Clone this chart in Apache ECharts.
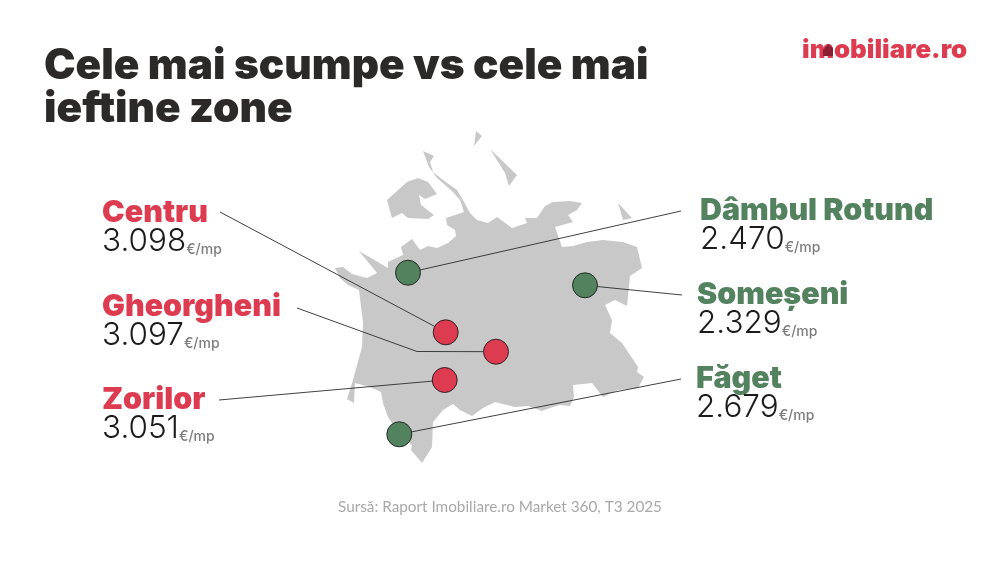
<!DOCTYPE html>
<html>
<head>
<meta charset="utf-8">
<title>Cele mai scumpe vs cele mai ieftine zone</title>
<style>
  html, body { margin: 0; padding: 0; background: #fff; }
  #chart { width: 1000px; height: 564px; }
</style>
<script src="https://cdn.jsdelivr.net/npm/echarts@6/dist/echarts.min.js"></script>
</head>
<body>
<div id="chart"></div>
<script>
// zones, prices (euro/mp)
var zones = ['Centru', 'Gheorgheni', 'Zorilor', 'Dâmbul Rotund', 'Someșeni', 'Făget'];
var prices = ['3.098', '3.097', '3.051', '2.470', '2.329', '2.679'];
var groups = ['scump', 'scump', 'scump', 'ieftin', 'ieftin', 'ieftin'];
// where each zone sits on the map
var zoneX = [445.7, 496, 444.7, 408, 585, 399.3];
var zoneY = [332.3, 351.7, 380, 272.7, 285.3, 434.3];
// where each text block starts
var labelX = [102, 102, 102, 700, 697, 696];
var labelY = [227.5, 321.5, 414.5, 225.5, 309.5, 393.5];
// start of each leader line, the Gheorgheni one has an elbow
var leaderStart = [[220, 212], [297, 308], [219, 400], [681, 211], [682, 295], [681, 379]];
var leaderElbow = [null, [417, 351.5], null, null, null, null];

// outline of the city
var cityMain = [[335,268],[343,267],[352,274],[367,278],[377,273],[359,251],[388,268],[388,262],[403,255],[401,247],[412,239],[420,250],[428,246],[437,248],[448,243],[456,236],[455,230],[447,225],[446,218],[464,212],[460,200],[452,191],[437,178],[429,167],[423,151],[434,156],[430,162],[433,172],[443,180],[457,190],[464,202],[470,213],[477,220],[488,223],[497,217],[512,228],[527,223],[525,218],[537,218],[545,206],[553,202],[570,201],[582,203],[577,210],[568,215],[573,222],[555,227],[562,247],[573,246],[587,242],[603,240],[623,242],[637,247],[642,268],[630,276],[627,306],[615,300],[605,305],[612,320],[610,333],[622,343],[638,367],[637,372],[644,377],[638,388],[618,390],[603,397],[592,383],[573,385],[574,397],[570,406],[560,405],[550,408],[542,411],[528,406],[515,407],[495,402],[483,408],[472,416],[460,410],[453,404],[443,410],[433,422],[432,447],[422,463],[411,450],[412,445],[400,435],[388,417],[383,403],[381,392],[370,387],[355,383],[354,403],[347,399],[353,380],[362,347],[363,323],[359,290],[348,285],[340,278]];
var cityNorth = [[387,200],[407,182],[418,178],[428,182],[437,194],[425,199],[419,195],[421,205],[434,215],[428,219],[408,218],[402,213],[392,218]];
var islandA = [[476,131],[482,136],[474,146]];
var islandB = [[490,149],[517,175],[509,186],[505,173]];
var islandC = [[618,203],[632,218],[623,220]];
var mapParts = [cityMain, cityNorth, islandA, islandB, islandC];

var colorRed = '#dd3b50';
var colorGreen = '#53825f';
var headFont = 'Inter';

function groupColor(i) {
    return groups[i] === 'scump' ? colorRed : colorGreen;
}

var leaders = zones.map(function (z, i) {
    var end = [zoneX[i], zoneY[i]];
    var coords = leaderElbow[i] ? [leaderStart[i], leaderElbow[i], end] : [leaderStart[i], end];
    return { coords: coords };
});

var myChart = echarts.init(document.getElementById('chart'));

myChart.setOption({
    backgroundColor: '#ffffff',
    animation: false,
    title: [
        {
            text: 'Cele mai scumpe vs cele mai\nieftine zone',
            left: 39, top: 40,
            textStyle: { fontFamily: headFont, fontWeight: 900, fontSize: 42.3, lineHeight: 43, color: '#2b2a29' }
        },
        {
            text: 'Sursă: Raport Imobiliare.ro Market 360, T3 2025',
            left: 333, top: 495,
            textStyle: { fontFamily: 'Lato', fontWeight: 400, fontSize: 15.3, color: '#a8a8a8' }
        },
        {
            text: 'imobiliare.ro',
            left: 797, top: 32,
            textStyle: { fontFamily: headFont, fontWeight: 900, fontSize: 25.8, color: colorRed }
        }
    ],
    grid: { left: 0, right: 0, top: 0, bottom: 0 },
    xAxis: { type: 'value', min: 0, max: 1000, show: false },
    yAxis: { type: 'value', min: 0, max: 564, inverse: true, show: false },
    series: [
        {
            type: 'custom',
            silent: true,
            coordinateSystem: 'cartesian2d',
            data: mapParts.map(function (p, i) { return [i]; }),
            renderItem: function (params, api) {
                var pts = mapParts[params.dataIndex].map(function (p) { return api.coord(p); });
                return { type: 'polygon', shape: { points: pts }, style: { fill: '#c8c8c8' } };
            },
            z: 1
        },
        {
            type: 'lines',
            coordinateSystem: 'cartesian2d',
            polyline: true,
            silent: true,
            data: leaders,
            lineStyle: { color: '#2b2b2b', width: 0.9, opacity: 1 },
            z: 2
        },
        {
            type: 'scatter',
            silent: true,
            symbol: 'circle',
            symbolSize: 25,
            data: zones.map(function (z, i) {
                return {
                    name: z,
                    value: [zoneX[i], zoneY[i]],
                    itemStyle: { color: groupColor(i), borderColor: '#1c1c1c', borderWidth: 0.9, opacity: 1 }
                };
            }),
            z: 3
        },
        {
            type: 'scatter',
            silent: true,
            symbolSize: 0,
            itemStyle: { opacity: 1 },
            data: zones.map(function (z, i) {
                return {
                    name: z,
                    value: [labelX[i], labelY[i]],
                    label: {
                        show: true,
                        position: 'right',
                        distance: 0,
                        align: 'left',
                        formatter: '{n|' + z + '}\n{v|' + prices[i] + '}{u|€/mp}',
                        rich: {
                            n: { fontFamily: headFont, fontWeight: 900, fontSize: 30.4, lineHeight: 29, color: groupColor(i) },
                            v: { fontFamily: 'Inter', fontWeight: 300, fontSize: 31.5, lineHeight: 29, color: '#1c1c1c' },
                            u: { fontFamily: 'Inter', fontWeight: 500, fontSize: 14, lineHeight: 29, color: '#7d7d7d', verticalAlign: 'bottom' }
                        }
                    }
                };
            }),
            z: 4
        }
    ],
    graphic: [
        // the little roof in the logo
        { type: 'polygon', z: 10, shape: { points: [[823, 50], [828, 44], [833, 48], [833, 56], [823, 56]] }, style: { fill: '#8c1f30' } }
    ]
});
</script>
</body>
</html>
